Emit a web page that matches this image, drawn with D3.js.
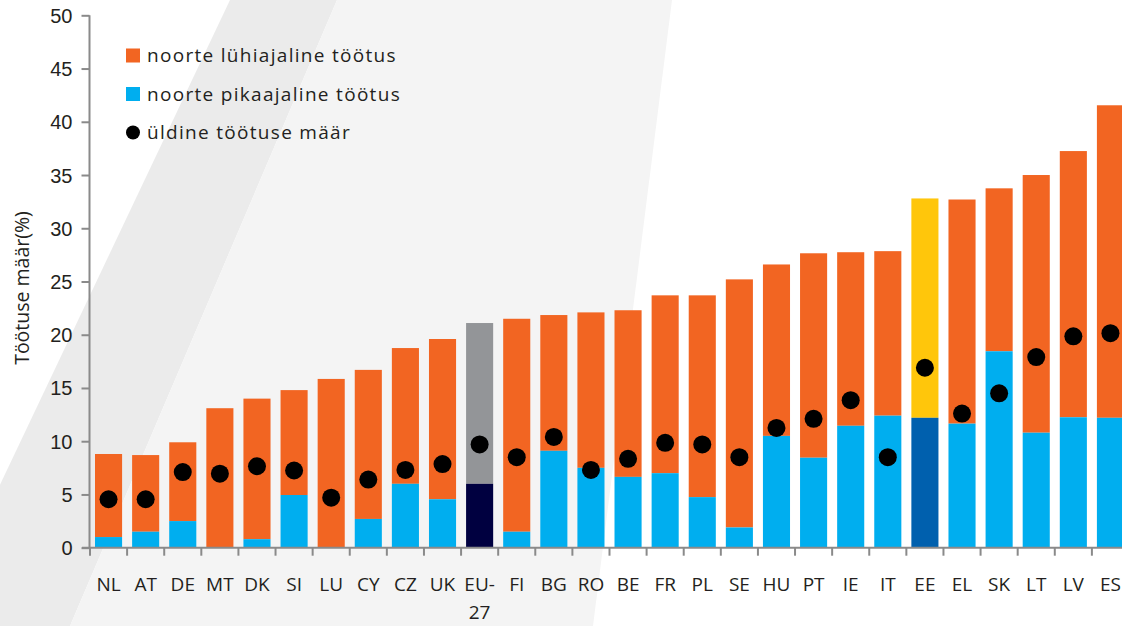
<!DOCTYPE html>
<html>
<head>
<meta charset="utf-8">
<script src="https://cdn.jsdelivr.net/npm/d3@7"></script>
<style>
  body { margin: 0; background: #fff; }
  svg { display: block; font-family: "Open Sans", "Noto Sans", sans-serif; }
</style>
</head>
<body>
<svg id="chart" width="1122" height="626"></svg>
<script>
// categories and values
const countries = ["NL","AT","DE","MT","DK","SI","LU","CY","CZ","UK","EU-27","FI","BG","RO","BE","FR","PL","SE","HU","PT","IE","IT","EE","EL","SK","LT","LV","ES"];
const totalRate = [8.8,8.7,9.9,13.1,14.0,14.8,15.85,16.7,18.75,19.6,21.1,21.5,21.85,22.1,22.3,23.7,23.7,25.2,26.6,27.65,27.75,27.85,32.8,32.7,33.75,35.0,37.25,41.55];
const longTerm = [1.0,1.5,2.5,0,0.8,4.95,0,2.7,6.0,4.55,6.0,1.5,9.1,7.5,6.65,7.0,4.75,1.9,10.5,8.45,11.45,12.4,12.2,11.65,18.45,10.8,12.25,12.2];
const overallRate = [4.55,4.55,7.1,6.95,7.65,7.25,4.7,6.4,7.3,7.85,9.7,8.5,10.4,7.3,8.35,9.85,9.7,8.5,11.25,12.1,13.85,8.5,16.9,12.6,14.5,17.9,19.85,20.15];
const yTicks = [0,5,10,15,20,25,30,35,40,45,50];
const legendLabels = ["noorte lühiajaline töötus", "noorte pikaajaline töötus", "üldine töötuse määr"];

const colors = {short: "#f26522", long: "#00aeef", dot: "#000000",
  euShort: "#939598", euLong: "#000040", eeShort: "#ffc60b", eeLong: "#0060ae"};
const textColor = "#231f20";
const axisColor = "#8a8a8a";

const svg = d3.select("#chart");

// decorative background bands
svg.append("path").attr("d", "M230,0 L337,0 L70,626 L-67,626 Z").attr("fill", "#ebebeb");
svg.append("path").attr("d", "M337,0 L672,0 L593,626 L70,626 Z").attr("fill", "#f4f4f4");

const y = d3.scaleLinear().domain([0, 50]).range([547.7, 15.3]);
const x = d3.scaleBand().domain(countries).range([90, 1129])
  .paddingInner(0.27).paddingOuter(0.135);
const step = x.step();
const cellLeft = c => x(c) - x.paddingOuter() * step;

const data = countries.map((c, i) => ({
  c, total: totalRate[i], long: longTerm[i], overall: overallRate[i]
}));

function shortColor(d) {
  if (d.c === "EU-27") return colors.euShort;
  if (d.c === "EE") return colors.eeShort;
  return colors.short;
}
function longColor(d) {
  if (d.c === "EU-27") return colors.euLong;
  if (d.c === "EE") return colors.eeLong;
  return colors.long;
}

// bars: full height (short-term on top), long-term at the base
svg.append("g").selectAll("rect").data(data).join("rect")
  .attr("x", d => x(d.c))
  .attr("width", x.bandwidth())
  .attr("y", d => y(d.total))
  .attr("height", d => y(d.long) - y(d.total))
  .attr("fill", shortColor);

svg.append("g").selectAll("rect").data(data.filter(d => d.long > 0)).join("rect")
  .attr("x", d => x(d.c))
  .attr("width", x.bandwidth())
  .attr("y", d => y(d.long))
  .attr("height", d => y(0) - y(d.long))
  .attr("fill", longColor);

// dots
svg.append("g").selectAll("circle").data(data).join("circle")
  .attr("cx", d => x(d.c) + x.bandwidth() / 2)
  .attr("cy", d => y(d.overall))
  .attr("r", 9)
  .attr("fill", colors.dot);

// y axis
const yAxis = svg.append("g").attr("transform", "translate(89.5,0)")
  .call(d3.axisLeft(y).tickValues(yTicks).tickSize(8).tickPadding(9));
yAxis.select(".domain").attr("stroke", axisColor).attr("stroke-width", 2)
  .attr("d", `M0,${y(50)}V${y(0)}`);
yAxis.selectAll(".tick line").attr("stroke", axisColor).attr("stroke-width", 2);
yAxis.selectAll(".tick text").attr("fill", textColor)
  .style("font-size", "20px").attr("dy", "0.35em");

// x axis line and boundary ticks
const xAxisG = svg.append("g");
xAxisG.append("line")
  .attr("x1", 82).attr("x2", 1122)
  .attr("y1", y(0)).attr("y2", y(0))
  .attr("stroke", axisColor).attr("stroke-width", 2);
xAxisG.selectAll("line.tk").data(countries).join("line")
  .attr("class", "tk")
  .attr("x1", d => cellLeft(d)).attr("x2", d => cellLeft(d))
  .attr("y1", y(0)).attr("y2", y(0) + 8)
  .attr("stroke", axisColor).attr("stroke-width", 2);

// x labels
const xl = xAxisG.selectAll("text").data(countries).join("text")
  .attr("x", d => x(d) + x.bandwidth() / 2)
  .attr("y", 591)
  .attr("text-anchor", "middle")
  .attr("fill", textColor)
  .style("font-size", "19px");
xl.each(function(d) {
  const t = d3.select(this);
  if (d === "EU-27") {
    t.append("tspan").attr("x", x(d) + x.bandwidth() / 2).text("EU-");
    t.append("tspan").attr("x", x(d) + x.bandwidth() / 2).attr("dy", 28).text("27");
  } else {
    t.text(d);
  }
});

// y title
svg.append("text")
  .attr("transform", `translate(29,${288}) rotate(-90)`)
  .attr("text-anchor", "middle")
  .attr("fill", textColor)
  .style("font-size", "19.5px")
  .text("Töötuse määr(%)");

// legend
const legend = svg.append("g").attr("transform", "translate(126,0)");
const legendY = [55.5, 94, 132.5];
legend.append("rect").attr("x", 0).attr("y", legendY[0] - 7).attr("width", 14).attr("height", 14).attr("fill", colors.short);
legend.append("rect").attr("x", 0).attr("y", legendY[1] - 7).attr("width", 14).attr("height", 14).attr("fill", colors.long);
legend.append("circle").attr("cx", 7).attr("cy", legendY[2]).attr("r", 7).attr("fill", colors.dot);
legend.selectAll("text").data(legendLabels).join("text")
  .attr("x", 21)
  .attr("y", (d, i) => legendY[i])
  .attr("dy", "0.35em")
  .attr("fill", textColor)
  .style("font-size", "19px")
  .style("letter-spacing", "1.3px")
  .text(d => d);
</script>
</body>
</html>
